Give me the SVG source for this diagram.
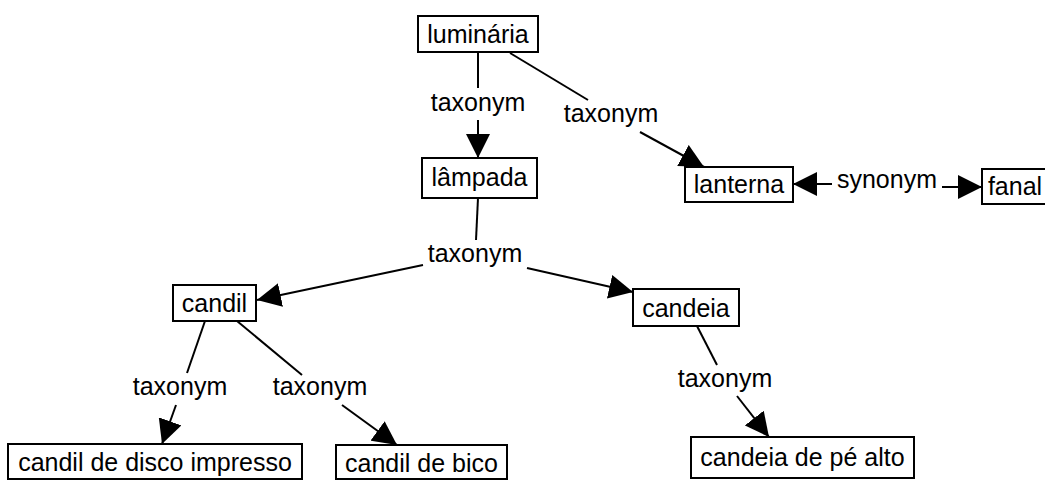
<svg xmlns="http://www.w3.org/2000/svg" width="1045" height="480" viewBox="0 0 1045 480">
<style>
  .box { fill: #fff; stroke: #000; stroke-width: 2; }
  .t { font-family: "Liberation Sans", Arial, Helvetica, sans-serif; font-size: 25px; fill: #000; text-anchor: middle; }
  .e { stroke: #000; stroke-width: 2; fill: none; }
  .a { stroke: #000; stroke-width: 2; fill: none; marker-end: url(#arr); }
</style>
<defs>
  <marker id="arr" markerUnits="userSpaceOnUse" markerWidth="24" markerHeight="24" viewBox="0 0 22 22" refX="22" refY="11" orient="auto">
    <path d="M0,0 L22,11 L0,22 z" fill="#000"/>
  </marker>
</defs>
<rect width="1045" height="480" fill="#fff"/>
<g id="connectors">
  <line class="e" x1="478" y1="52" x2="478" y2="88"/>
  <line class="a" x1="478" y1="120" x2="478" y2="158"/>
  <text class="t" x="478" y="111">taxonym</text>

  <line class="e" x1="510" y1="53" x2="588" y2="100"/>
  <line class="a" x1="640" y1="132" x2="704" y2="167"/>
  <text class="t" x="611" y="122">taxonym</text>

  <line class="a" x1="832" y1="184" x2="793" y2="184"/>
  <line class="a" x1="942" y1="187" x2="982" y2="187"/>
  <text class="t" x="887" y="188">synonym</text>

  <line class="e" x1="478" y1="198" x2="476" y2="240"/>
  <line class="a" x1="423" y1="265" x2="257" y2="300"/>
  <line class="a" x1="527" y1="268" x2="633" y2="292"/>
  <text class="t" x="475" y="262">taxonym</text>

  <line class="e" x1="205" y1="321" x2="187" y2="373"/>
  <line class="a" x1="176" y1="405" x2="162" y2="444"/>
  <text class="t" x="180" y="395">taxonym</text>

  <line class="e" x1="237" y1="321" x2="302" y2="375"/>
  <line class="a" x1="342" y1="405" x2="397" y2="445"/>
  <text class="t" x="320" y="395">taxonym</text>

  <line class="e" x1="697" y1="326" x2="717" y2="365"/>
  <line class="a" x1="737" y1="396" x2="769" y2="437"/>
  <text class="t" x="725" y="387">taxonym</text>
</g>
<g id="n-luminaria">
  <rect class="box" x="418" y="16" width="120" height="36"/>
  <text class="t" x="478" y="43">luminária</text>
</g>
<g id="n-lampada">
  <rect class="box" x="422" y="158" width="115" height="40"/>
  <text class="t" x="479.5" y="186">lâmpada</text>
</g>
<g id="n-lanterna">
  <rect class="box" x="685" y="167" width="108" height="35"/>
  <text class="t" x="739" y="193">lanterna</text>
</g>
<g id="n-fanal">
  <rect class="box" x="982" y="169" width="70" height="35"/>
  <text class="t" x="1015" y="195">fanal</text>
</g>
<g id="n-candil">
  <rect class="box" x="173" y="285" width="83" height="36"/>
  <text class="t" x="214.5" y="312">candil</text>
</g>
<g id="n-candeia">
  <rect class="box" x="633" y="289" width="106" height="37"/>
  <text class="t" x="686" y="317">candeia</text>
</g>
<g id="n-candil-disco">
  <rect class="box" x="8" y="444" width="294" height="35"/>
  <text class="t" x="155" y="471">candil de disco impresso</text>
</g>
<g id="n-candil-bico">
  <rect class="box" x="336" y="445" width="171" height="34"/>
  <text class="t" x="421.5" y="472">candil de bico</text>
</g>
<g id="n-candeia-pe">
  <rect class="box" x="691" y="437" width="223" height="41"/>
  <text class="t" x="802.5" y="466">candeia de pé alto</text>
</g>
</svg>
